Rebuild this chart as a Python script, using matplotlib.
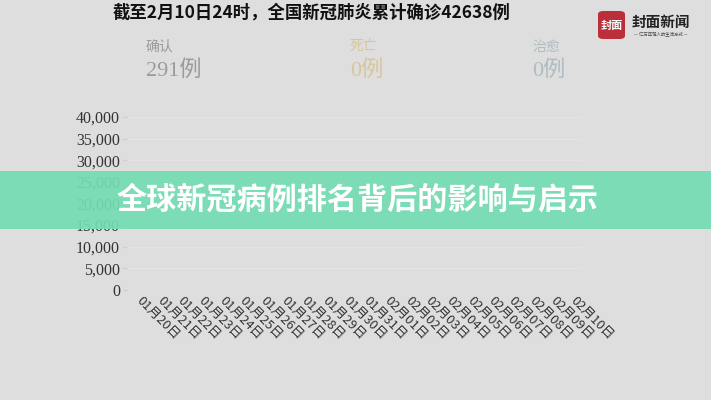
import matplotlib
matplotlib.use("Agg")
import matplotlib.pyplot as plt
from matplotlib.patches import FancyBboxPatch, Rectangle
import numpy as np

plt.rcParams['font.family'] = ['Noto Sans CJK SC', 'DejaVu Sans']

# ---- data ----
dates = ["01月20日", "01月21日", "01月22日", "01月23日", "01月24日", "01月25日",
         "01月26日", "01月27日", "01月28日", "01月29日", "01月30日", "01月31日",
         "02月01日", "02月02日", "02月03日", "02月04日", "02月05日", "02月06日",
         "02月07日", "02月08日", "02月09日", "02月10日"]
confirmed = [291] + [np.nan] * 21
yticks = [0, 5000, 10000, 15000, 20000, 25000, 30000, 35000, 40000]
title = "截至2月10日24时，全国新冠肺炎累计确诊42638例"
stat_labels = ["确认", "死亡", "治愈"]
stat_values = ["291例", "0例", "0例"]
stat_colors = ["#9b9b9b", "#d8c59c", "#aebcc1"]
banner_text = "全球新冠病例排名背后的影响与启示"

W, H = 711, 400
BG = "#dedede"
fig = plt.figure(figsize=(W / 100, H / 100), dpi=100, facecolor=BG)

ax = fig.add_axes([127 / W, 1 - 290 / H, (582 - 127) / W, (290 - 117) / H])
ax.set_facecolor(BG)
x = np.arange(len(dates))
ax.plot(x, confirmed, color="#9b9b9b", lw=1.5)
ax.set_xlim(-0.5, len(dates) - 0.5)
ax.set_ylim(0, 40000)
ax.set_yticks(yticks)
ax.set_yticklabels([f"{v:,}" for v in yticks], family="Liberation Serif",
                   fontsize=11.5, color="#333333")
# labels sit slightly right of each category centre, as in the original
ax.set_xticks(x + 0.28)
ax.set_xticklabels(dates, rotation=-45, ha="left", va="top",
                   rotation_mode="anchor", fontsize=9.3, color="#333333")
ax.tick_params(axis="y", length=3, color="#cccccc", pad=2)
ax.tick_params(axis="x", length=0, pad=3)
for s in ax.spines.values():
    s.set_visible(False)
ax.grid(axis="y", color="#e4e4e4", lw=0.8)
ax.set_axisbelow(True)

# title
fig.text(312 / W, 1 - 13 / H, title, ha="center", va="center",
         fontsize=12.5, fontweight="bold", color="#111111")

# stats
xs = [146, 350, 532]
for xx, lab, val, c in zip(xs, stat_labels, stat_values, stat_colors):
    fig.text(xx / W, 1 - 47 / H, lab, ha="left", va="center", fontsize=10, color=c)
    fig.text(xx / W, 1 - 70 / H, val, ha="left", va="center", fontsize=16,
             color=c, family=["Liberation Serif", "Noto Sans CJK SC"])

# logo
logo = FancyBboxPatch((598 / W, 1 - 39 / H), 27 / W, 28 / H,
                      boxstyle="round,pad=0,rounding_size=0.008",
                      transform=fig.transFigure, facecolor="#bb2f3a",
                      edgecolor="none")
fig.patches.append(logo)
fig.text(611.5 / W, 1 - 25 / H, "封面", ha="center", va="center",
         fontsize=8, color="white", fontweight="bold")
fig.text(661 / W, 1 - 22 / H, "封面新闻", ha="center", va="center",
         fontsize=10.5, color="#222222", fontweight="bold")
fig.text(661 / W, 1 - 35 / H, "— 亿万年轻人的生活方式 —", ha="center",
         va="center", fontsize=3.2, color="#444444")

# banner
banner = Rectangle((0, 1 - 229 / H), 1, 58 / H, transform=fig.transFigure,
                   facecolor="#74dcb3", edgecolor="none", alpha=0.93)
fig.patches.append(banner)
fig.text(117 / W, 1 - 200 / H, banner_text, ha="left", va="center",
         fontsize=21.7, fontweight="bold", color="white")

fig.savefig("out.png", dpi=100, facecolor=BG)
